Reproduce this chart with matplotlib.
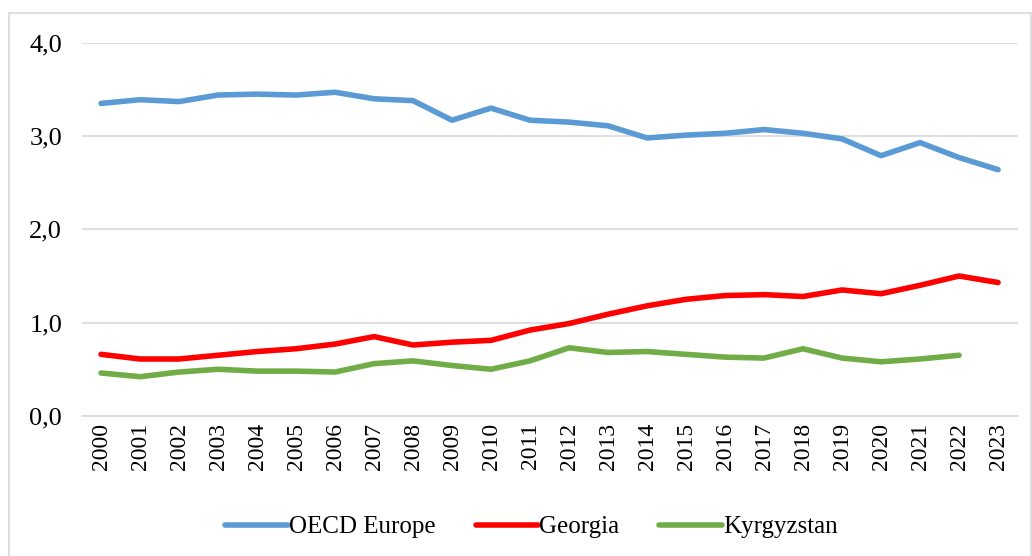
import matplotlib
matplotlib.use("Agg")
import matplotlib.pyplot as plt
from matplotlib.patches import Rectangle

years = [str(y) for y in range(2000, 2024)]
oecd = [3.35, 3.39, 3.37, 3.44, 3.45, 3.44, 3.47, 3.40, 3.38, 3.17, 3.30, 3.17,
        3.15, 3.11, 2.98, 3.01, 3.03, 3.07, 3.03, 2.97, 2.79, 2.93, 2.77, 2.64]
georgia = [0.66, 0.61, 0.61, 0.65, 0.69, 0.72, 0.77, 0.85, 0.76, 0.79, 0.81, 0.92,
           0.99, 1.09, 1.18, 1.25, 1.29, 1.30, 1.28, 1.35, 1.31, 1.40, 1.50, 1.43]
kyrgyz = [0.46, 0.42, 0.47, 0.50, 0.48, 0.48, 0.47, 0.56, 0.59, 0.54, 0.50, 0.59,
          0.73, 0.68, 0.69, 0.66, 0.63, 0.62, 0.72, 0.62, 0.58, 0.61, 0.65]
yticks = [0.0, 1.0, 2.0, 3.0, 4.0]
ytick_labels = ["0,0", "1,0", "2,0", "3,0", "4,0"]

plt.rcParams['font.family'] = ['Liberation Serif', 'DejaVu Serif']

fig = plt.figure(figsize=(10.32, 5.56), dpi=100)
ax = fig.add_axes([0.079, 0.252, 0.907, 0.671])

x = list(range(len(years)))
lw = 4.0
ax.plot(x, oecd, color='#5B9BD5', lw=lw, label='OECD Europe', solid_capstyle='round')
ax.plot(x, georgia, color='#FF0000', lw=lw, label='Georgia', solid_capstyle='round')
ax.plot(x[:len(kyrgyz)], kyrgyz, color='#70AD47', lw=lw, label='Kyrgyzstan', solid_capstyle='round')

ax.set_xlim(-0.5, len(years) - 0.5)
ax.set_ylim(0, 4.0)
ax.set_yticks(yticks)
ax.set_yticklabels(ytick_labels, fontsize=19)
ax.set_xticks(x)
ax.set_xticklabels(years, rotation=90, fontsize=17)
ax.tick_params(axis='both', length=0)
ax.tick_params(axis='x', pad=5)
ax.tick_params(axis='y', pad=14)
ax.grid(axis='y', color='#D9D9D9', lw=1.2)
ax.set_axisbelow(True)
for s in ['top', 'right', 'left']:
    ax.spines[s].set_visible(False)
ax.spines['bottom'].set_color('#D9D9D9')
ax.spines['bottom'].set_linewidth(1.2)

fig.legend(loc='center', bbox_to_anchor=(0.515, 0.052), ncol=3, frameon=False,
           fontsize=18, handlelength=2.5, columnspacing=1.6, handletextpad=0.05)

fig.patches.append(Rectangle((0.009, -0.01), 0.99, 0.987, transform=fig.transFigure,
                             fill=False, edgecolor='#D9D9D9', lw=1.2))

fig.savefig('out.png', dpi=100)
